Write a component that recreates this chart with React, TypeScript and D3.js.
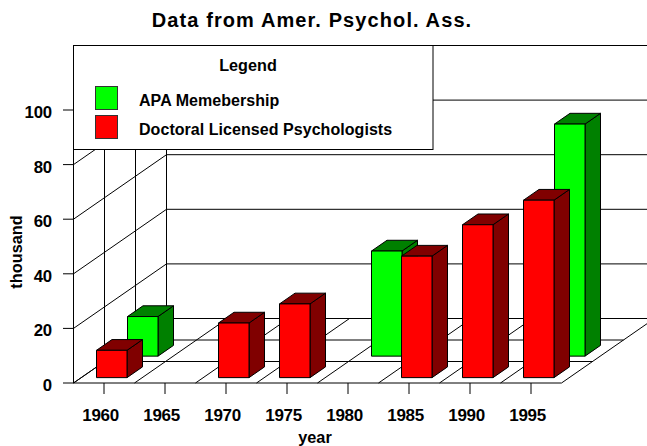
import React from "react";
import * as d3 from "d3";

const years = ["1960", "1965", "1970", "1975", "1980", "1985", "1990", "1995"];
const apaMembership = [14.5, null, null, null, 38.5, null, null, 85];
const licensed = [10, null, 20, 27, null, 44.5, 56, 65];
const yTicks = [0, 20, 40, 60, 80, 100];
const legendItems = ["APA Memebership", "Doctoral Licensed Psychologists"];
const font = "'Liberation Sans', Arial, sans-serif";

const W = 647, H = 446;
const x0 = 73.5, x1 = 561.5;
const floorY = 383;
const rows = 3;
const rowDx = 31, rowDy = 21.5;
const xScale = d3.scaleLinear().domain([0, years.length]).range([x0, x1]);
const yScale = d3.scaleLinear().domain([0, 100]).range([floorY, 110]);
const depth = (r: number) => [r * rowDx, -r * rowDy] as const;
const path = (pts: [number, number][]) => d3.line()(pts) + "Z";

function Bar({ i, v, row, face, dark }: { i: number; v: number; row: number; face: string; dark: string }) {
  const step = xScale(1) - xScale(0);
  const [fx, fy] = depth(row + 0.25);
  const [bx, by] = depth(row + 0.75);
  const left = xScale(i) + step / 4;
  const right = xScale(i) + (3 * step) / 4;
  const h = yScale(0) - yScale(v);
  const P = (x: number, [dx, dy]: number[], up: number): [number, number] => [x + dx, floorY + dy - up];
  const f = [fx, fy], b = [bx, by];
  return (
    <g stroke="#000" strokeWidth={1} strokeLinejoin="miter">
      <path d={path([P(right, f, 0), P(right, b, 0), P(right, b, h), P(right, f, h)])} fill={dark} />
      <path d={path([P(left, f, h), P(right, f, h), P(right, b, h), P(left, b, h)])} fill={dark} />
      <path d={path([P(left, f, 0), P(right, f, 0), P(right, f, h), P(left, f, h)])} fill={face} />
    </g>
  );
}

export default function App() {
  const [bdx, bdy] = depth(rows);
  const boundaries = d3.range(years.length + 1);
  const rowLines = d3.range(0, rows + 1);
  return (
    <svg width={W} height={H} viewBox={`0 0 ${W} ${H}`} style={{ position: "absolute", left: 0, top: 0, background: "#fff" }} fontFamily={font} fontWeight="bold" fill="#000">
      <g stroke="#000" strokeWidth={1} fill="none">
        {yTicks.map((t) => (
          <g key={t}>
            <line x1={x0 + bdx} x2={W} y1={yScale(t) + bdy} y2={yScale(t) + bdy} />
            <line x1={x0} x2={x0 + bdx} y1={yScale(t)} y2={yScale(t) + bdy} />
            <line x1={63} x2={x0} y1={yScale(t)} y2={yScale(t)} />
          </g>
        ))}
        {rowLines.map((r) => {
          const [dx, dy] = depth(r);
          return (
            <g key={r}>
              <line x1={x0 + dx} x2={x1 + dx} y1={floorY + dy} y2={floorY + dy} />
              <line x1={x0 + dx} x2={x0 + dx} y1={floorY + dy} y2={yScale(100) + dy} />
            </g>
          );
        })}
        {boundaries.map((k) => (
          <line key={k} x1={xScale(k)} x2={xScale(k) + bdx} y1={floorY} y2={floorY + bdy} />
        ))}
        {years.map((y, i) => (
          <line key={y} x1={xScale(i + 0.5)} x2={xScale(i + 0.5)} y1={floorY} y2={394} />
        ))}
      </g>
      {apaMembership.map((v, i) => v != null && <Bar key={i} i={i} v={v} row={1} face="#00ff00" dark="#008000" />)}
      {licensed.map((v, i) => v != null && <Bar key={i} i={i} v={v} row={0} face="#ff0000" dark="#800000" />)}

      <rect x={73.5} y={45.5} width={359.5} height={104} fill="#fff" stroke="#000" />
      <rect x={95.5} y={86.5} width={22} height={23} fill="#00ff00" stroke="#333" />
      <rect x={95.5} y={115.5} width={22} height={23} fill="#ff0000" stroke="#333" />
      <text x={248} y={71} textAnchor="middle" fontSize={16.2}>Legend</text>
      {legendItems.map((t, i) => (
        <text key={t} x={139} y={106 + i * 28.5} fontSize={16} letterSpacing={0.05}>{t}</text>
      ))}

      <text x={312} y={27} textAnchor="middle" fontSize={20} letterSpacing={1.1}>Data from Amer. Psychol. Ass.</text>
      {yTicks.map((t) => (
        <text key={t} x={52} y={yScale(t) + 8} textAnchor="end" fontSize={16.8} letterSpacing={-0.2}>{t}</text>
      ))}
      {years.map((y, i) => (
        <text key={y} x={xScale(i + 0.5) - 3.4} y={420.5} textAnchor="middle" fontSize={17} letterSpacing={-0.3}>{y}</text>
      ))}
      <text x={315} y={443} textAnchor="middle" fontSize={16.3}>year</text>
      <text transform="translate(22,252) rotate(-90)" textAnchor="middle" fontSize={16.3}>thousand</text>
    </svg>
  );
}
